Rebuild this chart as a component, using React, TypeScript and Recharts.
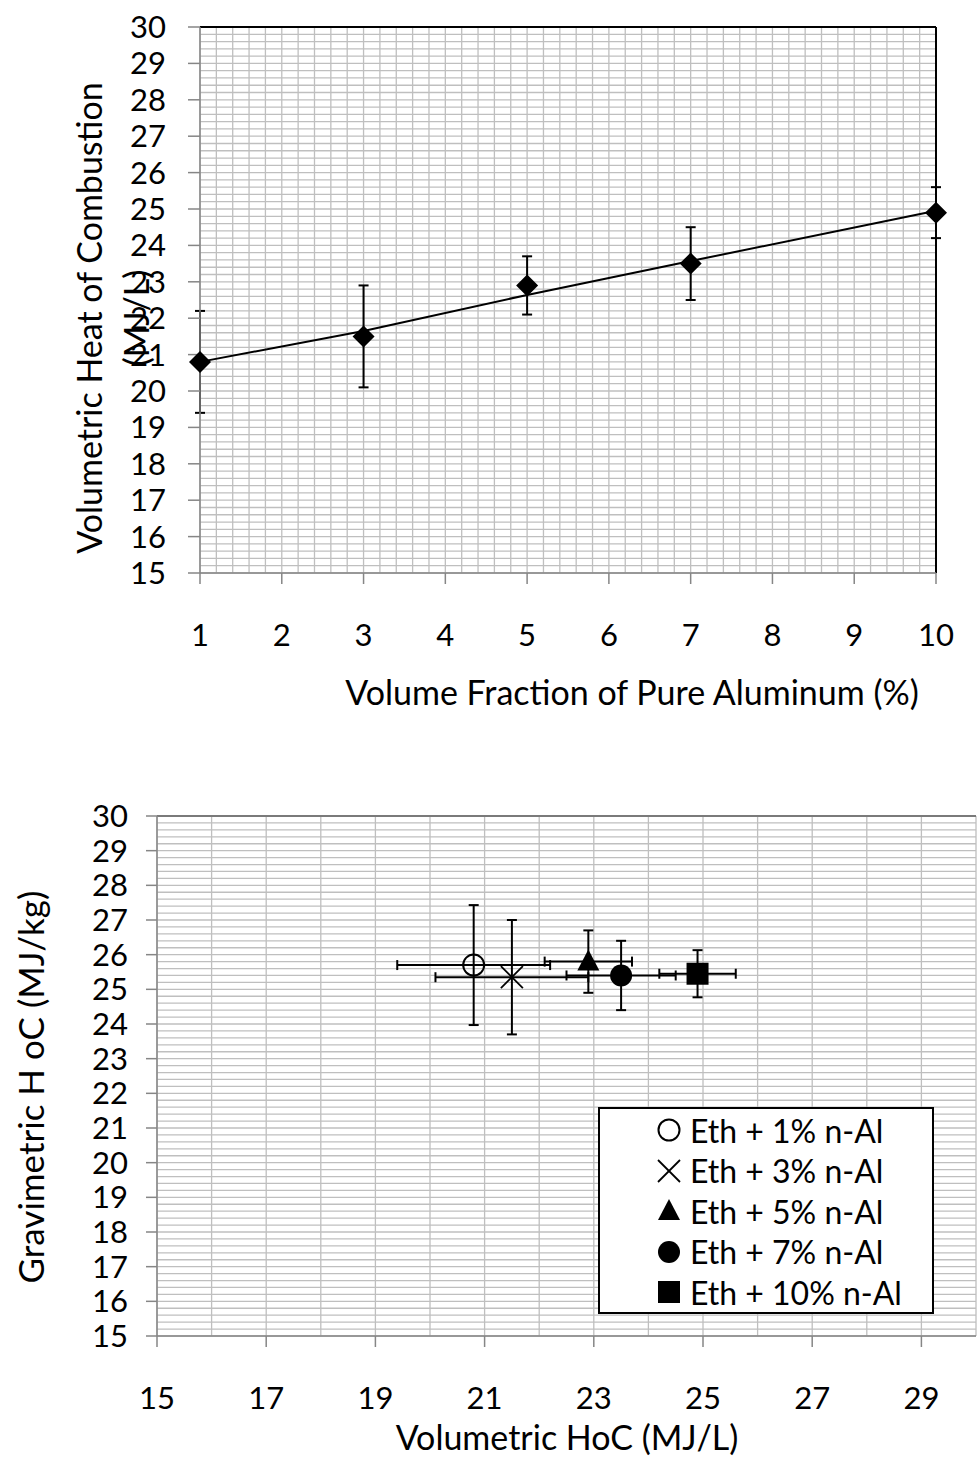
import {
  CartesianGrid,
  ComposedChart,
  ErrorBar,
  Line,
  ReferenceLine,
  Scatter,
  XAxis,
  YAxis,
} from "recharts";

// volume fraction of Al (%) and volumetric heat of combustion (MJ/L)
const fracPct = [1, 3, 5, 7, 10];
const volHoC = [20.8, 21.5, 22.9, 23.5, 24.9];
const volHoCErr = [1.4, 1.4, 0.8, 1.0, 0.7];
const volTrend = [20.8, 21.65, 22.64, 23.57, 24.95];

// gravimetric heat of combustion (MJ/kg)
const gravHoC = [25.7, 25.35, 25.8, 25.4, 25.45];
const gravHoCErr = [1.73, 1.65, 0.9, 1.0, 0.68];
const blendNames = [
  "Eth + 1% n-Al",
  "Eth + 3% n-Al",
  "Eth + 5% n-Al",
  "Eth + 7% n-Al",
  "Eth + 10% n-Al",
];
const blendShapes = ["ring", "cross", "triangle", "dot", "square"];

const fracTicks = [1, 2, 3, 4, 5, 6, 7, 8, 9, 10];
const hocTicks = [15, 16, 17, 18, 19, 20, 21, 22, 23, 24, 25, 26, 27, 28, 29, 30];
const volTicks = [15, 17, 19, 21, 23, 25, 27, 29];

const FONT = "Lato, 'Noto Sans', sans-serif";
const AXIS = "#868686";
const GRID = "#bfbfbf";

function steps(from: number, to: number, step: number) {
  const out: number[] = [];
  for (let i = 0; from + i * step <= to + 1e-9; i++) out.push(+(from + i * step).toFixed(2));
  return out;
}

// grid line generators: map domain values through the chart's plot area
function vGrid(values: number[], lo: number, hi: number) {
  return ({ xAxis, offset }: any) =>
    values.map((v) =>
      xAxis && typeof xAxis.scale === "function"
        ? xAxis.scale(v)
        : offset.left + ((v - lo) / (hi - lo)) * offset.width
    );
}
function hGrid(values: number[], lo: number, hi: number) {
  return ({ yAxis, offset }: any) =>
    values.map((v) =>
      yAxis && typeof yAxis.scale === "function"
        ? yAxis.scale(v)
        : offset.top + ((hi - v) / (hi - lo)) * offset.height
    );
}

const topData = fracPct.map((x, i) => ({
  x,
  hoc: volHoC[i],
  err: volHoCErr[i],
  trend: volTrend[i],
}));

const tickStyle = { fontSize: 31, fill: "#000", fontFamily: FONT };

function Marker({ shape, cx, cy }: { shape: string; cx: number; cy: number }) {
  if (shape === "ring")
    return <circle cx={cx} cy={cy} r={10.5} fill="none" stroke="#000" strokeWidth={2} />;
  if (shape === "cross")
    return (
      <g stroke="#000" strokeWidth={1.8}>
        <line x1={cx - 11} y1={cy - 11} x2={cx + 11} y2={cy + 11} />
        <line x1={cx - 11} y1={cy + 11} x2={cx + 11} y2={cy - 11} />
      </g>
    );
  if (shape === "triangle")
    return <polygon points={`${cx},${cy - 12} ${cx - 11},${cy + 9} ${cx + 11},${cy + 9}`} fill="#000" />;
  if (shape === "dot") return <circle cx={cx} cy={cy} r={11} fill="#000" />;
  return <rect x={cx - 11} y={cy - 11} width={22} height={22} fill="#000" />;
}

function Diamond(props: any) {
  const { cx, cy, index } = props;
  if (cx == null || cy == null) return <g key={index} />;
  return (
    <polygon
      key={index}
      points={`${cx},${cy - 11} ${cx + 11},${cy} ${cx},${cy + 11} ${cx - 11},${cy}`}
      fill="#000"
    />
  );
}

function Title({
  text,
  x,
  y,
  size,
  rotate,
}: {
  text: string;
  x: number;
  y: number;
  size: number;
  rotate?: boolean;
}) {
  return (
    <div
      style={{
        position: "absolute",
        left: x,
        top: y,
        transform: `translate(-50%, -50%)${rotate ? " rotate(-90deg)" : ""}`,
        whiteSpace: "nowrap",
        fontFamily: FONT,
        fontSize: size,
        lineHeight: 1,
        color: "#000",
      }}
    >
      {text}
    </div>
  );
}

function TopChart() {
  return (
    <div style={{ position: "absolute", left: 0, top: 0 }}>
      <ComposedChart
        width={977}
        height={720}
        data={topData}
        margin={{ top: 27, right: 41, bottom: 87, left: 140 }}
      >
        <CartesianGrid
          stroke={GRID}
          strokeWidth={1.3}
          verticalCoordinatesGenerator={vGrid(steps(1, 10, 0.2), 1, 10)}
          horizontalCoordinatesGenerator={hGrid(steps(15, 30, 0.2), 15, 30)}
        />
        <XAxis
          type="number"
          dataKey="x"
          domain={[1, 10]}
          ticks={fracTicks}
          interval={0}
          height={60}
          tickSize={11}
          tickMargin={40}
          stroke={AXIS}
          strokeWidth={1.5}
          tick={tickStyle}
        />
        <YAxis
          type="number"
          domain={[15, 30]}
          ticks={hocTicks}
          interval={0}
          width={60}
          tickSize={12}
          tickMargin={22}
          stroke={AXIS}
          strokeWidth={1.5}
          tick={tickStyle}
        />
        <ReferenceLine y={30} stroke="#000" strokeWidth={2} />
        <ReferenceLine x={10} stroke="#000" strokeWidth={2} />
        <Line
          dataKey="trend"
          type="linear"
          stroke="#000"
          strokeWidth={2}
          dot={false}
          activeDot={false}
          isAnimationActive={false}
        />
        <Line
          dataKey="hoc"
          stroke="none"
          dot={(p: any) => <Diamond {...p} />}
          activeDot={false}
          isAnimationActive={false}
        >
          <ErrorBar dataKey="err" width={5} stroke="#000" strokeWidth={2} />
        </Line>
      </ComposedChart>
      <Title text="Volumetric  Heat of Combustion" x={89} y={318} size={34} rotate />
      <Title text="(MJ/L)" x={136} y={318} size={34} rotate />
      <Title text="Volume Fraction of Pure Aluminum (%)" x={632} y={692} size={34} />
    </div>
  );
}

function BottomChart() {
  return (
    <div style={{ position: "absolute", left: 0, top: 760 }}>
      <ComposedChart width={977} height={703} margin={{ top: 56, right: 1, bottom: 67, left: 97 }}>
        <CartesianGrid
          stroke={GRID}
          strokeWidth={1.3}
          verticalCoordinatesGenerator={vGrid(steps(15, 30, 1), 15, 30)}
          horizontalCoordinatesGenerator={hGrid(steps(15, 30, 0.2), 15, 30)}
        />
        <XAxis
          type="number"
          dataKey="x"
          domain={[15, 30]}
          ticks={volTicks}
          interval={0}
          height={60}
          tickSize={11}
          tickMargin={40}
          stroke={AXIS}
          strokeWidth={1.5}
          tick={tickStyle}
        />
        <YAxis
          type="number"
          dataKey="y"
          domain={[15, 30]}
          ticks={hocTicks}
          interval={0}
          width={60}
          tickSize={11}
          tickMargin={18}
          stroke={AXIS}
          strokeWidth={1.5}
          tick={tickStyle}
        />
        <ReferenceLine y={30} stroke="#7a7a7a" strokeWidth={2} />
        {blendNames.map((name, i) => (
          <Scatter
            key={name}
            name={name}
            data={[{ x: volHoC[i], y: gravHoC[i], ex: volHoCErr[i], ey: gravHoCErr[i] }]}
            shape={(p: any) => <Marker shape={blendShapes[i]} cx={p.cx} cy={p.cy} />}
            isAnimationActive={false}
          >
            <ErrorBar dataKey="ex" direction="x" width={5} stroke="#000" strokeWidth={2} />
            <ErrorBar dataKey="ey" direction="y" width={5} stroke="#000" strokeWidth={2} />
          </Scatter>
        ))}
      </ComposedChart>
      <div
        style={{
          position: "absolute",
          left: 598,
          top: 347,
          width: 332,
          height: 203,
          border: "2px solid #000",
          background: "#fff",
          fontFamily: FONT,
          fontSize: 32,
          color: "#000",
        }}
      >
        {blendNames.map((name, i) => (
          <div
            key={name}
            style={{
              position: "absolute",
              left: 56,
              top: 1 + i * 40.5,
              height: 40,
              display: "flex",
              alignItems: "center",
              whiteSpace: "nowrap",
            }}
          >
            <svg width={26} height={26} style={{ marginRight: 8 }}>
              <Marker shape={blendShapes[i]} cx={13} cy={13} />
            </svg>
            {name}
          </div>
        ))}
      </div>
      <Title text="Gravimetric H oC (MJ/kg)" x={30} y={327} size={35} rotate />
      <Title text="Volumetric HoC (MJ/L)" x={567} y={677} size={34} />
    </div>
  );
}

export default function App() {
  return (
    <div style={{ position: "absolute", left: 0, top: 0, width: 977, height: 1463, background: "#fff" }}>
      <TopChart />
      <BottomChart />
    </div>
  );
}
